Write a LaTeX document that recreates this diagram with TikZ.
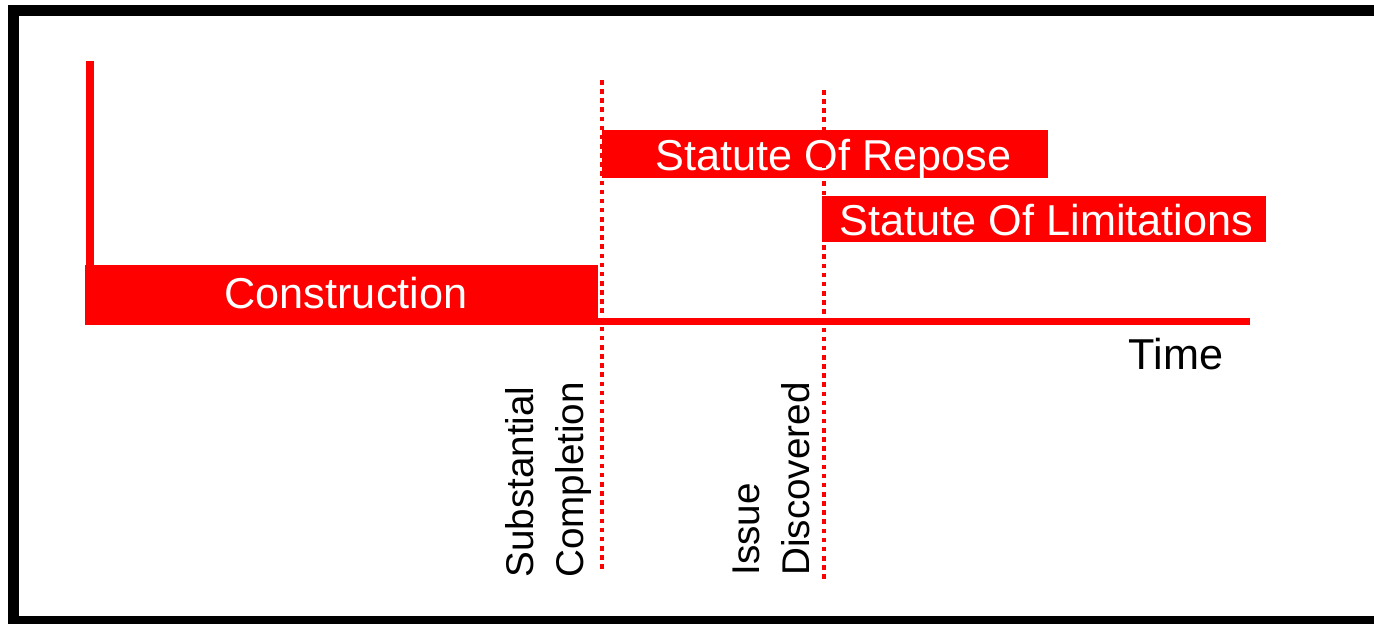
\documentclass[tikz,border=0pt]{standalone}
\usepackage{fontspec}
\setmainfont{Liberation Sans}
\usetikzlibrary{positioning,calc}
\definecolor{barred}{HTML}{FF0000}
\tikzset{
    every picture/.style={line join=miter},
    barbox/.style={fill=barred,draw=none,inner sep=0pt},
    bartext/.style={text=white,anchor=base,inner sep=0pt,
      font=\fontsize{24.6}{28}\selectfont},
    axisline/.style={draw=barred,line width=4pt},
    datemark/.style={draw=barred,line width=1.8pt,dash pattern=on 2.6pt off 2.6pt},
    vlabel/.style={rotate=90,anchor=south west,align=left,inner sep=0pt,
      font=\fontsize{22}{28.4}\selectfont},
    framebox/.style={draw=black,line width=6.2pt}
}
\begin{document}
\begin{tikzpicture}[x=0.02cm,y=-0.02cm]
  \useasboundingbox (0,0) rectangle (1374,623);
  \draw[framebox] (13.5,10.5) rectangle (1420,621.5);
  % bars
  \node[barbox,minimum width=10.26cm,minimum height=1.2cm] (build) at (341.5,295) {};
  \node[barbox,minimum width=8.92cm,minimum height=0.96cm] (repose) at (825,154) {};
  \node[barbox,minimum width=8.88cm,minimum height=0.92cm] (limit) at (1044,219) {};
  \node[bartext] (buildtext) at ($(build.center)+(4.5,13)$) {Construction};
  \node[bartext] (reposetext) at ($(repose.center)+(8.5,16)$) {Statute Of Repose};
  \node[bartext] (limittext) at ($(limit.center)+(2.5,16)$) {Statute Of Limitations};
  % axes
  \coordinate (ytop) at (90,61);
  \coordinate (origin) at (90,321.5);
  \coordinate (xend) at (1250,321.5);
  \draw[axisline] (ytop) -- (origin) -- (xend);
  \node[font=\fontsize{24.6}{28}\selectfont,anchor=base,inner sep=0pt] (time)
    at ($(xend)+(-74,47.5)$) {Time};
  % milestones
  \coordinate (sctop) at (602,80);
  \coordinate (scbot) at (602,570);
  \coordinate (idtop) at (824,90);
  \coordinate (idbot) at (824,580);
  \draw[datemark] (sctop) -- (scbot);
  \draw[datemark] (idtop) -- (idbot);
  \node[vlabel] (sclabel) at ($(scbot)+(-10,8)$) {Substantial\\Completion};
  \node[vlabel] (idlabel) at ($(idbot)+(-14,-4)$) {Issue\\Discovered};
\end{tikzpicture}
\end{document}
